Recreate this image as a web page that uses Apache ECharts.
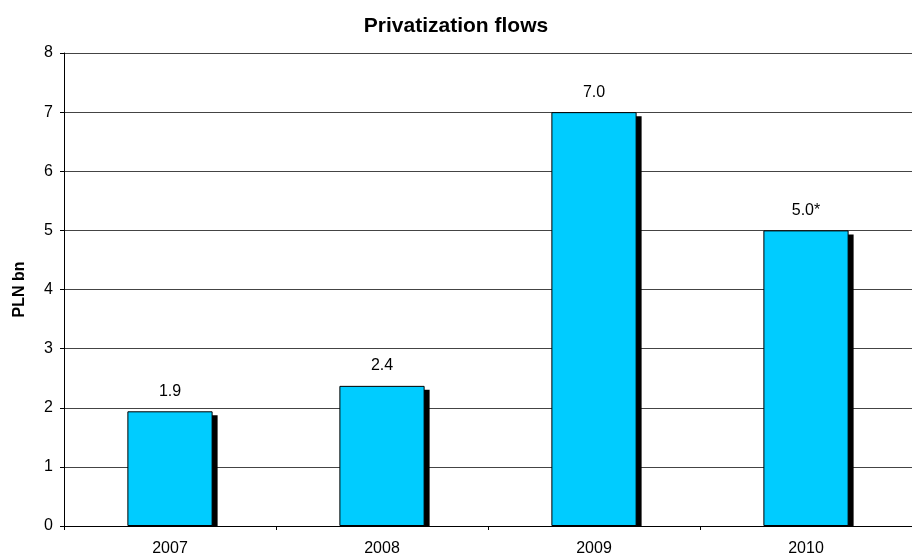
<!DOCTYPE html>
<html><head><meta charset="utf-8">
<script src="https://cdn.jsdelivr.net/npm/echarts@6/dist/echarts.min.js"></script>
<style>html,body{margin:0;padding:0;background:#fff}#c{width:912px;height:559px}</style>
</head><body><div id="c"></div>
<script>
var categories = ['2007', '2008', '2009', '2010'];
var values = [1.94, 2.37, 7.0, 5.0];
var labels = ['1.9', '2.4', '7.0', '5.0*'];
var yTicks = [0, 1, 2, 3, 4, 5, 6, 7, 8];

var FONT = 'Liberation Sans, Arial, sans-serif';
var BAR_FRAC = 0.402;

var chart = echarts.init(document.getElementById('c'));
chart.setOption({
  backgroundColor: '#fff',
  animation: false,
  textStyle: { fontFamily: FONT },
  title: {
    text: 'Privatization flows', left: 'center', top: 11,
    textStyle: { fontSize: 21, fontWeight: 'bold', color: '#000', fontFamily: FONT }
  },
  grid: { left: 64, width: 856, top: 53, bottom: 33 },
  xAxis: {
    type: 'category', data: categories,
    axisLine: { lineStyle: { color: '#000', width: 1 } },
    axisTick: { show: true, length: 4, lineStyle: { color: '#000' } },
    axisLabel: { color: '#000', fontSize: 16, margin: 15 }
  },
  yAxis: {
    type: 'value', min: yTicks[0], max: yTicks[yTicks.length - 1], interval: 1,
    name: 'PLN bn', nameLocation: 'middle', nameGap: 36, nameRotate: 90,
    nameTextStyle: { color: '#000', fontSize: 16, fontWeight: 'bold' },
    axisLine: { show: true, lineStyle: { color: '#000', width: 1 } },
    axisTick: { show: true, length: 4, lineStyle: { color: '#000' } },
    axisLabel: { color: '#000', fontSize: 16, margin: 11 },
    splitLine: { lineStyle: { color: '#444', width: 1 } }
  },
  series: [{
    type: 'custom',
    z: 1,
    data: values,
    renderItem: function (params, api) {
      var top = api.coord([api.value(0), api.value(1)]);
      var base = api.coord([api.value(0), 0]);
      var w = api.size([1, 0])[0] * BAR_FRAC;
      return {
        type: 'rect',
        shape: { x: top[0] - w / 2 + 5, y: top[1] + 4, width: w, height: base[1] - top[1] - 4 },
        style: { fill: '#000' }
      };
    },
    encode: { x: 0, y: 1 }
  }, {
    type: 'bar', data: values, barWidth: (BAR_FRAC * 100) + '%', z: 3,
    itemStyle: { color: '#00CCFF', borderColor: '#000', borderWidth: 1 },
    label: {
      show: true, position: 'top', distance: 12, color: '#000', fontSize: 16,
      formatter: function (p) { return labels[p.dataIndex]; }
    }
  }]
});
</script></body></html>
